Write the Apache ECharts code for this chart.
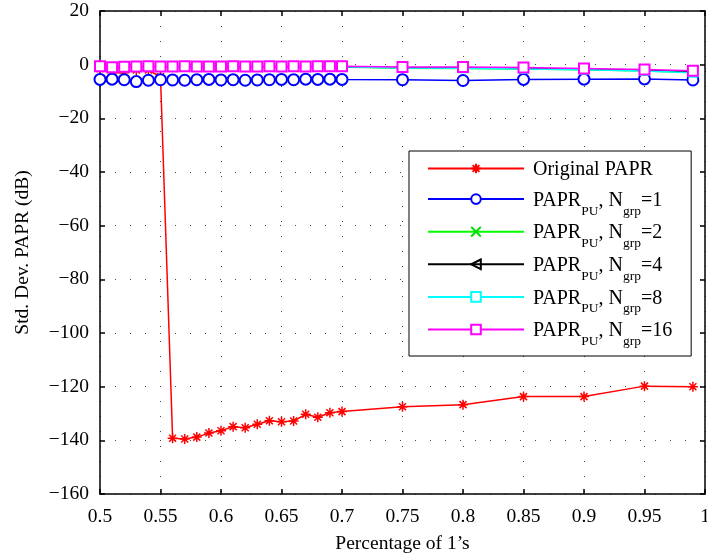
<!DOCTYPE html>
<html>
<head>
<meta charset="utf-8">
<script src="https://cdn.jsdelivr.net/npm/echarts@6/dist/echarts.min.js"></script>
<style>
  html, body { margin: 0; padding: 0; background: #fff; }
  #chart { width: 707px; height: 559px; }
</style>
</head>
<body>
<div id="chart"></div>
<script>
// x values (percentage of 1's)
const xValues = [0.5, 0.51, 0.52, 0.53, 0.54, 0.55, 0.56, 0.57, 0.58, 0.59, 0.6, 0.61, 0.62, 0.63,
  0.64, 0.65, 0.66, 0.67, 0.68, 0.69, 0.7, 0.75, 0.8, 0.85, 0.9, 0.95, 0.99]

const originalPapr = [-1.5, -3, -3, -2, -2, -4.5, -139.2, -139.5, -138.8, -137.3, -136.4, -134.9, -135.3, -134.0,
  -132.7, -133.1, -132.8, -130.3, -131.4, -129.7, -129.3, -127.5, -126.7, -123.7, -123.7, -119.8, -120.0]
const grp1 = [-5.5, -5.4, -5.6, -6.3, -5.8, -5.6, -5.7, -5.8, -5.6, -5.5, -5.7, -5.6, -5.8, -5.7,
  -5.6, -5.5, -5.6, -5.4, -5.5, -5.4, -5.5, -5.6, -5.9, -5.5, -5.4, -5.3, -5.7]
const grp2 = [-0.9, -1.3, -1.1, -0.9, -0.9, -1.0, -0.9, -0.9, -0.9, -1.0, -0.9, -0.9, -0.9, -1.0,
  -0.9, -0.9, -0.9, -0.9, -0.9, -0.8, -0.9, -1.3, -1.4, -1.6, -1.9, -2.4, -2.9]
const grp4 = [-0.7, -1.1, -0.9, -0.8, -0.8, -0.8, -0.8, -0.8, -0.8, -0.9, -0.8, -0.8, -0.8, -0.9,
  -0.8, -0.8, -0.8, -0.8, -0.8, -0.7, -0.8, -1.1, -1.2, -1.4, -1.7, -2.1, -2.6]
const grp8 = [-0.8, -1.2, -1.0, -0.9, -0.8, -0.9, -0.9, -0.8, -0.9, -0.9, -0.9, -0.8, -0.9, -0.9,
  -0.8, -0.9, -0.8, -0.9, -0.8, -0.8, -0.8, -1.2, -1.3, -1.6, -1.9, -2.4, -3.0]
const grp16 = [-0.6, -1.0, -0.8, -0.7, -0.6, -0.7, -0.7, -0.6, -0.7, -0.7, -0.7, -0.6, -0.7, -0.7,
  -0.6, -0.7, -0.6, -0.7, -0.6, -0.6, -0.6, -0.9, -0.9, -1.1, -1.4, -1.8, -2.3]

const seriesNames = ['Original PAPR', 'grp1', 'grp2', 'grp4', 'grp8', 'grp16']
const legendNums = { grp1: '1', grp2: '2', grp4: '4', grp8: '8', grp16: '16' }

const FONT = 'Liberation Serif'
const toPairs = arr => arr.map((v, i) => [xValues[i], v])
const minus = v => String(v).replace('-', '\u2212')

const chart = echarts.init(document.getElementById('chart'), null, { renderer: 'canvas' })

const gridDots = { show: true, lineStyle: { color: '#444', width: 1, type: [1, 14] } }
const axisLineStyle = { show: true, onZero: false, lineStyle: { color: '#000', width: 1.5 } }
const tickStyle = { show: true, inside: true, length: 5, lineStyle: { color: '#000', width: 1.5 } }

const option = {
  backgroundColor: '#fff',
  animation: false,
  grid: { left: 100, right: 2, top: 11, bottom: 65, show: false, outerBoundsMode: 'none' },
  legend: {
    orient: 'vertical',
    left: 409,
    top: 151,
    padding: [7.5, 19, 7.5, 18],
    backgroundColor: '#fff',
    borderColor: '#000',
    borderWidth: 1,
    borderRadius: 0,
    itemWidth: 96,
    itemHeight: 12,
    itemGap: 3.6,
    data: seriesNames,
    formatter: name => {
      // invisible spacer keeps the first row about as tall as the subscripted rows
      if (name === 'Original PAPR') return '{n|Original PAPR}{t|x}'
      return '{n|PAPR}{s|PU}{n|, N}{s|grp}{n|=' + legendNums[name] + '}'
    },
    textStyle: {
      fontFamily: FONT,
      color: '#000',
      padding: [0, 0, 0, 4],
      rich: {
        n: { fontFamily: FONT, fontSize: 20, color: '#000', lineHeight: 20, padding: [1.5, 0, 0, 0], verticalAlign: 'top' },
        s: { fontFamily: FONT, fontSize: 13.5, color: '#000', lineHeight: 14, padding: [15, 0, 0, 0], verticalAlign: 'top' },
        t: { fontFamily: FONT, fontSize: 13.5, color: 'rgba(255,255,255,0)', lineHeight: 14, padding: [13, 0, 0, 0], verticalAlign: 'top' }
      }
    }
  },
  xAxis: [
    {
      type: 'value',
      min: 0.5,
      max: 1,
      interval: 0.05,
      name: 'Percentage of 1\u2019s',
      nameLocation: 'middle',
      nameGap: 40,
      nameTextStyle: { fontFamily: FONT, fontSize: 19.5, color: '#000' },
      axisLine: axisLineStyle,
      axisTick: tickStyle,
      axisLabel: { fontFamily: FONT, fontSize: 19.5, color: '#000', margin: 13,
        formatter: v => String(Math.round(v * 100) / 100) },
      splitLine: gridDots
    },
    {
      type: 'value',
      position: 'top',
      min: 0.5,
      max: 1,
      interval: 0.05,
      axisLine: axisLineStyle,
      axisTick: tickStyle,
      axisLabel: { show: false },
      splitLine: { show: false }
    }
  ],
  yAxis: [
    {
      type: 'value',
      min: -160,
      max: 20,
      interval: 20,
      name: 'Std. Dev. PAPR (dB)',
      nameLocation: 'middle',
      nameGap: 67,
      nameTextStyle: { fontFamily: FONT, fontSize: 19.5, color: '#000' },
      axisLine: axisLineStyle,
      axisTick: tickStyle,
      axisLabel: { fontFamily: FONT, fontSize: 19.5, color: '#000', margin: 11, formatter: minus },
      splitLine: gridDots
    },
    {
      type: 'value',
      position: 'right',
      min: -160,
      max: 20,
      interval: 20,
      axisLine: axisLineStyle,
      axisTick: tickStyle,
      axisLabel: { show: false },
      splitLine: { show: false }
    }
  ],
  series: [
    {
      name: 'Original PAPR',
      type: 'line',
      data: toPairs(originalPapr),
      symbol: 'path://M0,-10L0,10M-10,0L10,0M-7,-7L7,7M-7,7L7,-7',
      symbolSize: 10,
      lineStyle: { color: '#ff0000', width: 1.5 },
      itemStyle: { color: '#ff0000', borderColor: '#ff0000', borderWidth: 1.5 }
    },
    {
      name: 'grp1',
      type: 'line',
      data: toPairs(grp1),
      symbol: 'emptyCircle',
      symbolSize: 11,
      lineStyle: { color: '#0000ff', width: 1.5 },
      itemStyle: { color: '#0000ff', borderColor: '#0000ff', borderWidth: 1.5 }
    },
    {
      name: 'grp2',
      type: 'line',
      data: toPairs(grp2),
      symbol: 'path://M-5,-5L5,5M-5,5L5,-5',
      symbolSize: 6,
      lineStyle: { color: '#00ff00', width: 1.5 },
      itemStyle: { color: '#00ff00', borderColor: '#00dd00', borderWidth: 1.5 }
    },
    {
      name: 'grp4',
      type: 'line',
      data: toPairs(grp4),
      symbol: 'path://M10,0L0,5L10,10Z',
      symbolSize: [9, 9],
      lineStyle: { color: '#000', width: 1.5 },
      itemStyle: { color: 'rgba(255,255,255,0)', borderColor: '#000', borderWidth: 1.2 }
    },
    {
      name: 'grp8',
      type: 'line',
      data: toPairs(grp8),
      symbol: 'emptyRect',
      symbolSize: 8,
      lineStyle: { color: '#00ffff', width: 1.5 },
      itemStyle: { color: '#00ffff', borderColor: '#00ffff', borderWidth: 1.5 }
    },
    {
      name: 'grp16',
      type: 'line',
      data: toPairs(grp16),
      symbol: 'emptyRect',
      symbolSize: 10,
      lineStyle: { color: '#ff00ff', width: 1.5 },
      itemStyle: { color: '#ff00ff', borderColor: '#ff00ff', borderWidth: 1.5 }
    }
  ]
}

chart.setOption(option)
</script>
</body>
</html>
